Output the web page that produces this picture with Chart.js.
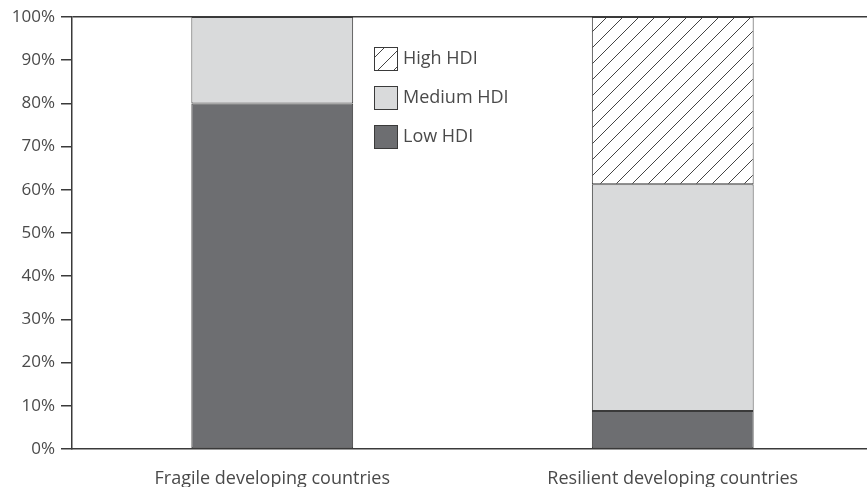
<!DOCTYPE html>
<html>
<head>
<meta charset="utf-8">
<script src="https://cdn.jsdelivr.net/npm/chart.js@4/dist/chart.umd.min.js"></script>
<style>
  html, body { margin: 0; padding: 0; background: #fff; overflow: hidden; }
  #wrap { width: 873px; height: 487px; }
</style>
</head>
<body>
<div id="wrap"><canvas id="hdiChart" width="873" height="487"></canvas></div>
<script>
// categories and shares (%) per HDI group
const categories = ['Fragile developing countries', 'Resilient developing countries'];
const lowHDI = [80, 8.8];
const mediumHDI = [20, 52.5];
const highHDI = [0, 38.7];
const legendLabels = ['High HDI', 'Medium HDI', 'Low HDI'];

const FONT = '"Open Sans", "Noto Sans", sans-serif';
const TEXT = '#4a4a4a';
const LINE = '#3a3a3a';

// diagonal hatch for the High HDI segment
function makeHatch() {
    const c = document.createElement('canvas');
    c.width = 16; c.height = 16;
    const g = c.getContext('2d');
    g.fillStyle = '#fff';
    g.fillRect(0, 0, 16, 16);
    g.strokeStyle = '#444';
    g.lineWidth = 1;
    g.beginPath();
    g.moveTo(0, 16); g.lineTo(16, 0);
    g.moveTo(-4, 4); g.lineTo(4, -4);
    g.moveTo(12, 20); g.lineTo(20, 12);
    g.stroke();
    return g.createPattern(c, 'repeat');
}

function renderChart() {
    const ctx = document.getElementById('hdiChart').getContext('2d');
    const hatch = makeHatch();
    const fills = [hatch, '#d9dadb', '#6d6e71'];

    // legend drawn inside the plot area
    const insideLegend = {
        id: 'insideLegend',
        afterDraw(chart) {
            const c = chart.ctx;
            c.save();
            c.font = '18px ' + FONT;
            c.textBaseline = 'middle';
            legendLabels.forEach((lab, i) => {
                const x = 374, y = 47 + i * 39;
                c.fillStyle = fills[i];
                c.fillRect(x, y, 23, 23);
                c.strokeStyle = LINE;
                c.lineWidth = 1;
                c.strokeRect(x + 0.5, y + 0.5, 23, 23);
                c.fillStyle = TEXT;
                c.fillText(lab, 403, y + 12);
            });
            c.restore();
        }
    };

    const common = { borderColor: LINE, borderWidth: 1, borderSkipped: false, barPercentage: 0.404, categoryPercentage: 1 };

    new Chart(ctx, {
        type: 'bar',
        data: {
            labels: categories,
            datasets: [
                Object.assign({ label: 'Low HDI', data: lowHDI, backgroundColor: '#6d6e71' }, common),
                Object.assign({ label: 'Medium HDI', data: mediumHDI, backgroundColor: '#d9dadb' }, common),
                Object.assign({ label: 'High HDI', data: highHDI, backgroundColor: hatch }, common)
            ]
        },
        options: {
            responsive: false,
            animation: false,
            layout: { padding: { top: 17, right: 0, left: 0, bottom: 0 } },
            plugins: { legend: { display: false }, tooltip: { enabled: false } },
            scales: {
                x: {
                    stacked: true,
                    grid: { display: false },
                    border: { color: LINE, width: 1.5 },
                    ticks: { color: TEXT, font: { family: FONT, size: 18 }, padding: 11, maxRotation: 0 },
                    afterFit(s) { s.height = 38; }
                },
                y: {
                    stacked: true,
                    min: 0,
                    max: 100,
                    grid: {
                        color: c => c.tick && c.tick.value === 100 ? LINE : 'rgba(0,0,0,0)',
                        tickColor: LINE,
                        tickLength: 11,
                        lineWidth: 1.5
                    },
                    border: { color: LINE, width: 1.5 },
                    ticks: {
                        stepSize: 10,
                        color: TEXT,
                        font: { family: FONT, size: 17 },
                        padding: 6,
                        callback: v => v + '%'
                    },
                    afterFit(s) { s.width = 72; }
                }
            }
        },
        plugins: [insideLegend]
    });
}

document.addEventListener('DOMContentLoaded', renderChart);
</script>
</body>
</html>
